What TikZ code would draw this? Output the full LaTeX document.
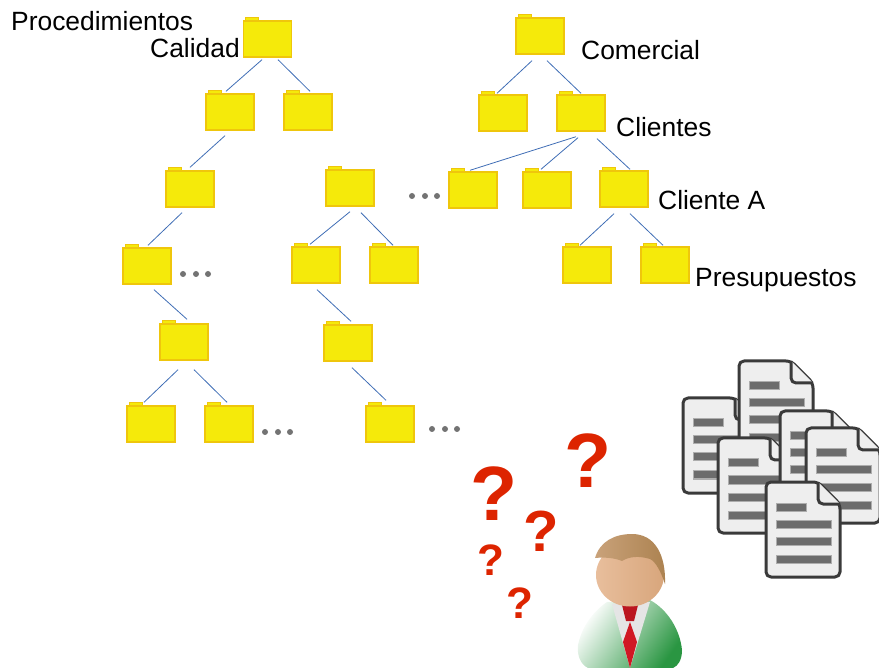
\documentclass[tikz,border=0pt]{standalone}
\usepackage{fontspec}
\setmainfont{Liberation Sans}
\usetikzlibrary{shapes}
\definecolor{folderfill}{HTML}{F5EA0A}
\definecolor{folderedge}{HTML}{EFC60C}
\definecolor{linkblue}{HTML}{3F6DB5}
\definecolor{quered}{HTML}{DD2400}
\definecolor{docfill}{HTML}{EEEEEE}
\definecolor{docedge}{HTML}{3A3A3A}
\definecolor{docbar}{HTML}{6C6C6C}
\definecolor{facelight}{HTML}{E8BE9C}
\definecolor{facedark}{HTML}{D8A67C}
\definecolor{hairlight}{HTML}{C9A27A}
\definecolor{hairdark}{HTML}{AC8250}
\definecolor{suitgreen}{HTML}{2A9642}
\definecolor{tiered}{HTML}{D01824}
\newcommand{\folder}[3]{
  \node[folder] (#1) at (#2,#3) {};
  \draw[foldertab] ([xshift=3pt]#1.north west) rectangle ([xshift=16pt,yshift=3pt]#1.north west);
}
\newcommand{\link}[4]{\draw[link] ([shift={(#2)}]#1.south) -- ([shift={(#4)}]#3.north);}
\tikzset{pics/docpage/.style={code={
  \draw[docsheet] (0,0) -- (52,0) -- (74,22) -- (74,95) -- (0,95) -- cycle;
  \draw[docsheet] (52,0) -- (52,22) -- (74,22);
  \draw[docline] (10,21) rectangle (40,29);
  \foreach \y in {38,55,73} \draw[docline] (10,\y) rectangle (65,\y+8);
}}}

\begin{document}
\begin{tikzpicture}[x=1pt,y=-1pt]
\tikzstyle{folder}=[rectangle, draw=folderedge, fill=folderfill, line width=1.4pt,
  minimum width=48pt, minimum height=36pt, inner sep=0pt]
\tikzstyle{foldertab}=[draw=folderedge, fill=folderfill, line width=1pt]
\tikzstyle{link}=[draw=linkblue, line width=0.8pt]
\tikzstyle{ellipdot}=[fill=black!55]
\tikzstyle{caption}=[anchor=base west, inner sep=0pt, font=\fontsize{26.4}{30}\selectfont]
\tikzstyle{docsheet}=[draw=docedge, fill=docfill, line width=3pt, rounded corners=5pt, line join=round]
\tikzstyle{docline}=[draw=black!32, fill=docbar, line width=1pt]
\tikzstyle{quemark}=[text=quered, inner sep=0pt]
\useasboundingbox (0,0) rectangle (879,668);

\folder{cal}{267.5}{39}
\folder{fa}{230}{112}
\folder{fb}{308}{112}
\folder{fc}{190}{189}
\folder{fh}{350}{188}
\folder{fd}{147}{266}
\folder{fi}{316}{265}
\folder{fj}{394}{265}
\folder{fe}{184}{342}
\folder{fk}{348}{343}
\folder{ff}{151}{424}
\folder{fg}{229}{424}
\folder{fl}{390}{424}
\folder{com}{540}{36}
\folder{rb}{503}{113}
\folder{cli}{581}{113}
\folder{rd}{473}{190}
\folder{re}{547}{190}
\folder{clia}{624}{189}
\folder{rg}{587}{265}
\folder{pre}{665}{265}

\link{cal}{-5.5,2}{fa}{-4,-2}
\link{cal}{10.5,2}{fb}{2,-2}
\link{fa}{-5,5}{fc}{0,-3}
\link{fc}{-8,5}{fd}{1,-2}
\link{fd}{7,5}{fe}{3,-4}
\link{fe}{-6,9}{ff}{-7,-3}
\link{fe}{10,9}{fg}{-2,-3}
\link{fh}{0,5}{fi}{-6,-2}
\link{fh}{11,6}{fj}{-1,-1}
\link{fi}{1,6}{fk}{3,-3}
\link{fk}{4,6}{fl}{-4,-5}
\link{com}{-8,6}{rb}{-6,-1}
\link{com}{7,6}{cli}{0,-1}
\link{cli}{-5,5}{rd}{-3,-1}
\link{cli}{-3,6}{re}{-6,-2}
\link{cli}{16,7}{clia}{6,-1}
\link{clia}{-10,6}{rg}{-7,-1}
\link{clia}{6,6}{pre}{-2,-1}

\foreach \x/\y in {183/274,412/196,265/432,432/429}
  \foreach \d in {0,13,25}
    \fill[ellipdot] (\x+\d,\y) circle (3);

\node[caption] (proc) at (11,31) {Procedimientos};
\node[caption] (calt) at (150,58) {Calidad};
\node[caption] (comt) at (581,60) {Comercial};
\node[caption] (clit) at (616,137) {Clientes};
\node[caption] (cliat) at (658,210) {Cliente A};
\node[caption] (pret) at (695,287) {Presupuestos};

\pic at (683,398) {docpage};
\pic at (739,361) {docpage};
\pic at (718,438) {docpage};
\pic at (780,411) {docpage};
\pic at (806,428) {docpage};
\pic at (766,482) {docpage};

\node[quemark, font=\fontsize{77}{77}\bfseries\selectfont] (q1) at (494.5,494) {?};
\node[quemark, font=\fontsize{77}{77}\bfseries\selectfont] (q2) at (588,460.5) {?};
\node[quemark, font=\fontsize{58}{58}\bfseries\selectfont] (q3) at (541.5,531) {?};
\node[quemark, font=\fontsize{44}{44}\bfseries\selectfont] (q4) at (491,560) {?};
\node[quemark, font=\fontsize{44}{44}\bfseries\selectfont] (q5) at (520,603) {?};

\shade[top color=white, bottom color=suitgreen, shading angle=55]
  (588,668) .. controls (580,664) and (577,655) .. (578,645)
  .. controls (582,625) and (595,610) .. (607,602) -- (650,600)
  .. controls (668,610) and (680,630) .. (682,650)
  .. controls (682,660) and (678,666) .. (673,668) -- cycle;
\fill[black!10] (612,604) -- (650,602) -- (630,668) -- cycle;
\fill[tiered!90!black] (622,605) -- (638,605) -- (634,621) -- (626,621) -- cycle;
\fill[tiered] (630,622) -- (637,642) -- (630,668) -- (623,642) -- cycle;
\shade[left color=facelight, right color=facedark] (630,575) ellipse (34 and 31.5);
\shade[left color=hairlight, right color=hairdark]
  (595,558) .. controls (600,541) and (615,534) .. (632,534)
  .. controls (655,534) and (666,555) .. (665,584)
  .. controls (661,572) and (656,562) .. (650,559)
  .. controls (640,556) and (630,556) .. (622,561)
  .. controls (615,558) and (605,557) .. (595,558) -- cycle;
\end{tikzpicture}
\end{document}
